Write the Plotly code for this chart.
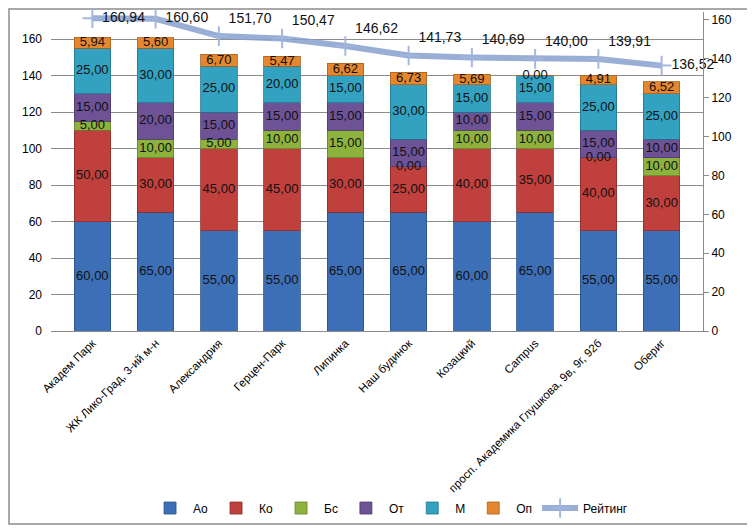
import plotly.graph_objects as go

categories = ["Академ Парк", "ЖК Лико-Град, 3-ий м-н", "Александрия", "Герцен-Парк", "Липинка",
              "Наш будинок", "Козацкий", "Campus", "просп. Академика Глушкова, 9в, 9г, 92б", "Обериг"]
ao = [60, 65, 55, 55, 65, 65, 60, 65, 55, 55]
ko = [50, 30, 45, 45, 30, 25, 40, 35, 40, 30]
bs = [5, 10, 5, 10, 15, 0, 10, 10, 0, 10]
ot = [15, 20, 15, 15, 15, 15, 10, 15, 15, 10]
m = [25, 30, 25, 20, 15, 30, 15, 15, 25, 25]
op = [5.94, 5.60, 6.70, 5.47, 6.62, 6.73, 5.69, 0.00, 4.91, 6.52]
rating = [160.94, 160.60, 151.70, 150.47, 146.62, 141.73, 140.69, 140.00, 139.91, 136.52]

series = [("Ао", ao, "#3D6FB6"), ("Ко", ko, "#BF403C"), ("Бс", bs, "#8DB23E"),
          ("От", ot, "#6D5296"), ("М", m, "#33A1C0"), ("Оп", op, "#E5872F")]
edge = {"#3D6FB6": "#2B5289", "#BF403C": "#8E2C29", "#8DB23E": "#66822B",
        "#6D5296": "#4E3A6D", "#33A1C0": "#23778E", "#E5872F": "#A8601F"}

FONT = "Liberation Sans, Arial, sans-serif"
fig = go.Figure()

base = [0.0] * len(categories)
lab_x, lab_y, lab_t = [], [], []
for name, vals, col in series:
    fig.add_trace(go.Bar(x=categories, y=vals, name=name,
                         marker=dict(color=col, line=dict(color=edge[col], width=0.8)),
                         yaxis="y"))
    for i, v in enumerate(vals):
        lab_x.append(categories[i])
        lab_y.append(base[i] + v / 2)
        lab_t.append(f"{v:.2f}".replace(".", ","))
        base[i] += v

fig.add_trace(go.Scatter(x=lab_x, y=lab_y, text=lab_t, mode="text", showlegend=False,
                         textfont=dict(family=FONT, size=13, color="#111111"),
                         hoverinfo="skip", cliponaxis=False, yaxis="y"))

positions = ["middle right", "middle right"] + ["top right"] * (len(rating) - 3) + ["middle right"]
fig.add_trace(go.Scatter(x=categories, y=rating, name="Рейтинг", mode="lines+markers+text",
                         yaxis="y2",
                         line=dict(color="rgba(135,160,205,0.85)", width=6),
                         marker=dict(symbol="cross-thin", size=14,
                                     line=dict(color="rgba(160,180,220,0.95)", width=2),
                                     color="rgba(160,180,220,0.95)"),
                         text=[f"{v:.2f}".replace(".", ",") for v in rating],
                         textposition=positions,
                         textfont=dict(family=FONT, size=14, color="#111111"),
                         cliponaxis=False))

# page has an 8px body margin: figure occupies page pixels 8..755 x 8..528
fig.update_layout(
    width=747, height=520,
    margin=dict(l=43, r=52, t=4, b=197, autoexpand=False),
    paper_bgcolor="white", plot_bgcolor="white",
    barmode="stack", bargap=0.42,
    separators=", ",
    font=dict(family=FONT, size=12, color="#000000"),
    showlegend=True,
    legend=dict(orientation="h", x=0.52, xanchor="center", y=-0.555, yanchor="middle",
                traceorder="normal", font=dict(family=FONT, size=12),
                itemwidth=36, bgcolor="rgba(0,0,0,0)"),
    xaxis=dict(showgrid=False, showline=True, linecolor="#8C8C8C", tickangle=-45,
               tickfont=dict(family=FONT, size=11.5), automargin=False, ticks=""),
    yaxis=dict(range=[0, 174.8], tickvals=list(range(0, 161, 20)), showgrid=True,
               gridcolor="#8C8C8C", gridwidth=1, zeroline=False, showline=False,
               ticklabelstandoff=8, tickfont=dict(family=FONT, size=12), automargin=False),
    yaxis2=dict(range=[0, 164.1], tickvals=list(range(0, 161, 20)), overlaying="y",
                side="right", showgrid=False, zeroline=False, showline=True,
                linecolor="#8C8C8C", ticks="outside", ticklen=5, tickcolor="#8C8C8C",
                tickfont=dict(family=FONT, size=12), automargin=False),
    shapes=[dict(type="rect", xref="paper", yref="paper", x0=-0.0644, x1=1.0736,
                 y0=-0.605, y1=1.0094, line=dict(color="#8C8C8C", width=1.5),
                 fillcolor="rgba(0,0,0,0)", layer="below")],
)

fig.write_html("out.html")
